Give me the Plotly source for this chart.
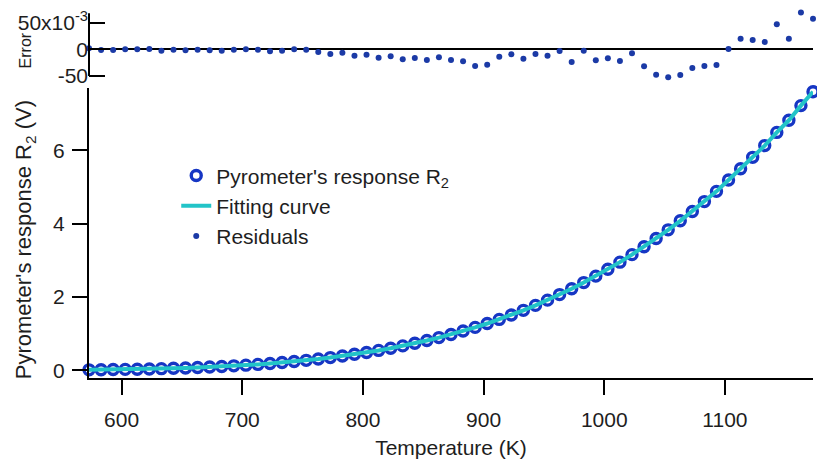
import plotly.graph_objects as go

# ---------------- data ----------------
temperature_K = [573, 583, 593, 603, 613, 623, 633, 643, 653, 663,
                 673, 683, 693, 703, 713, 723, 733, 743, 753, 763,
                 773, 783, 793, 803, 813, 823, 833, 843, 853, 863,
                 873, 883, 893, 903, 913, 923, 933, 943, 953, 963,
                 973, 983, 993, 1003, 1013, 1023, 1033, 1043, 1053, 1063,
                 1073, 1083, 1093, 1103, 1113, 1123, 1133, 1143, 1153, 1163,
                 1173]

response_R2 = [0.015, 0.019, 0.023, 0.028, 0.033, 0.040, 0.048, 0.057, 0.067, 0.079,
               0.092, 0.107, 0.124, 0.143, 0.164, 0.188, 0.214, 0.243, 0.275, 0.311,
               0.350, 0.393, 0.439, 0.490, 0.545, 0.604, 0.669, 0.739, 0.814, 0.895,
               0.981, 1.074, 1.173, 1.279, 1.391, 1.511, 1.638, 1.773, 1.916, 2.067,
               2.226, 2.394, 2.571, 2.757, 2.952, 3.157, 3.373, 3.598, 3.833, 4.079,
               4.335, 4.603, 4.882, 5.190, 5.500, 5.810, 6.130, 6.490, 6.820, 7.220,
               7.600]

fit_R2 = [0.015, 0.019, 0.023, 0.028, 0.033, 0.040, 0.048, 0.057, 0.067, 0.079,
          0.092, 0.107, 0.124, 0.143, 0.164, 0.188, 0.214, 0.243, 0.275, 0.311,
          0.350, 0.393, 0.439, 0.490, 0.545, 0.604, 0.669, 0.739, 0.814, 0.895,
          0.981, 1.074, 1.173, 1.279, 1.391, 1.511, 1.638, 1.773, 1.916, 2.067,
          2.226, 2.394, 2.571, 2.757, 2.952, 3.157, 3.373, 3.598, 3.833, 4.079,
          4.335, 4.603, 4.882, 5.190, 5.500, 5.810, 6.130, 6.490, 6.820, 7.220,
          7.600]

residuals = [0.0020, -0.0013, -0.0013, 0.0000, 0.0000, 0.0006, -0.0025, -0.0006, -0.0019, -0.0006,
             -0.0019, -0.0025, -0.0006, 0.0000, -0.0006, -0.0038, -0.0025, 0.0000, -0.0006, -0.0050,
             -0.0088, -0.0063, -0.0119, -0.0100, -0.0156, -0.0131, -0.0188, -0.0163, -0.0200, -0.0150,
             -0.0200, -0.0225, -0.0313, -0.0288, -0.0138, -0.0094, -0.0175, -0.0088, -0.0119, -0.0031,
             -0.0238, -0.0025, -0.0206, -0.0169, -0.0219, -0.0075, -0.0319, -0.0475, -0.0525, -0.0481,
             -0.0350, -0.0313, -0.0294, 0.0006, 0.0200, 0.0175, 0.0138, 0.0469, 0.0200, 0.0688,
             0.0575]

x_ticks = [600, 700, 800, 900, 1000, 1100]
main_y_ticks = [0, 2, 4, 6]
err_ticks = [-0.05, 0, 0.05]
err_tick_text = ["-50", "0", "50x10<sup>-3</sup>"]
err_axis_span = [-0.05, 0.0675]

# ---------------- style ----------------
FONT = "Liberation Sans, Arial, sans-serif"
TXT = "#1e1e1e"
BLUE = "#1636c4"
DOT = "#1b3aa6"
CYAN = "#22c4c8"

fig = go.Figure()

fig.add_trace(go.Scatter(
    x=temperature_K, y=response_R2, mode="markers",
    name="Pyrometer's response R<sub>2</sub>",
    marker=dict(symbol="circle-open", size=10, color=BLUE, line=dict(width=3.4, color=BLUE)),
    cliponaxis=False, xaxis="x", yaxis="y"))

fig.add_trace(go.Scatter(
    x=temperature_K, y=fit_R2, mode="lines", name="Fitting curve",
    line=dict(color=CYAN, width=4), cliponaxis=False, xaxis="x", yaxis="y"))

fig.add_trace(go.Scatter(
    x=temperature_K, y=residuals, mode="markers", name="Residuals",
    marker=dict(size=6, color=DOT), cliponaxis=False, xaxis="x2", yaxis="y2"))

fig.update_layout(
    width=817, height=464,
    margin=dict(l=89, r=4, t=10, b=86),
    paper_bgcolor="white", plot_bgcolor="white",
    font=dict(family=FONT, size=21, color=TXT),
    showlegend=True,
    legend=dict(x=0.1205, y=0.605, xanchor="left", yanchor="top",
                bgcolor="rgba(0,0,0,0)", font=dict(size=21, color=TXT),
                tracegroupgap=0, itemsizing="trace"),
    xaxis=dict(range=[573, 1173], domain=[0, 1], anchor="y",
               showline=True, linecolor="black", linewidth=2, mirror=False,
               ticks="outside", ticklen=15, tickwidth=2, tickcolor="black",
               tickvals=x_ticks, showgrid=False, zeroline=False,
               ticklabelstandoff=7,
               tickfont=dict(size=21, color=TXT),
               title=dict(text="Temperature (K)", font=dict(size=21, color=TXT), standoff=10)),
    yaxis=dict(range=[-0.207, 7.70], domain=[0, 0.788], anchor="x",
               showline=True, linecolor="black", linewidth=2,
               ticks="outside", ticklen=15, tickwidth=2, tickcolor="black",
               tickvals=main_y_ticks, showgrid=False, zeroline=False,
               ticklabelstandoff=3,
               tickfont=dict(size=21, color=TXT)),
    xaxis2=dict(range=[573, 1173], domain=[0, 1], anchor="y2", matches="x",
                visible=False),
    yaxis2=dict(range=[-0.0551, 0.0737], domain=[0.8133, 1], anchor="x2",
                showline=False,
                ticks="inside", ticklen=16, tickwidth=2, tickcolor="black",
                tickvals=err_ticks, ticktext=err_tick_text, showgrid=False,
                zeroline=True, zerolinecolor="black", zerolinewidth=2,
                tickfont=dict(size=21, color=TXT)),
    shapes=[
        dict(type="line", xref="paper", x0=0, x1=0, yref="y2",
             y0=err_axis_span[0], y1=err_axis_span[1],
             line=dict(color="black", width=2)),
    ],
    annotations=[
        dict(text="Pyrometer's response R<sub>2</sub> (V)", textangle=-90,
             xref="paper", yref="paper", x=-0.088, y=0.375,
             xanchor="center", yanchor="middle", showarrow=False,
             font=dict(size=22, color=TXT)),
        dict(text="Error", textangle=-90,
             xref="paper", yref="paper", x=-0.088, y=0.891,
             xanchor="center", yanchor="middle", showarrow=False,
             font=dict(size=16, color=TXT)),
    ],
)

fig.write_html("out.html")
